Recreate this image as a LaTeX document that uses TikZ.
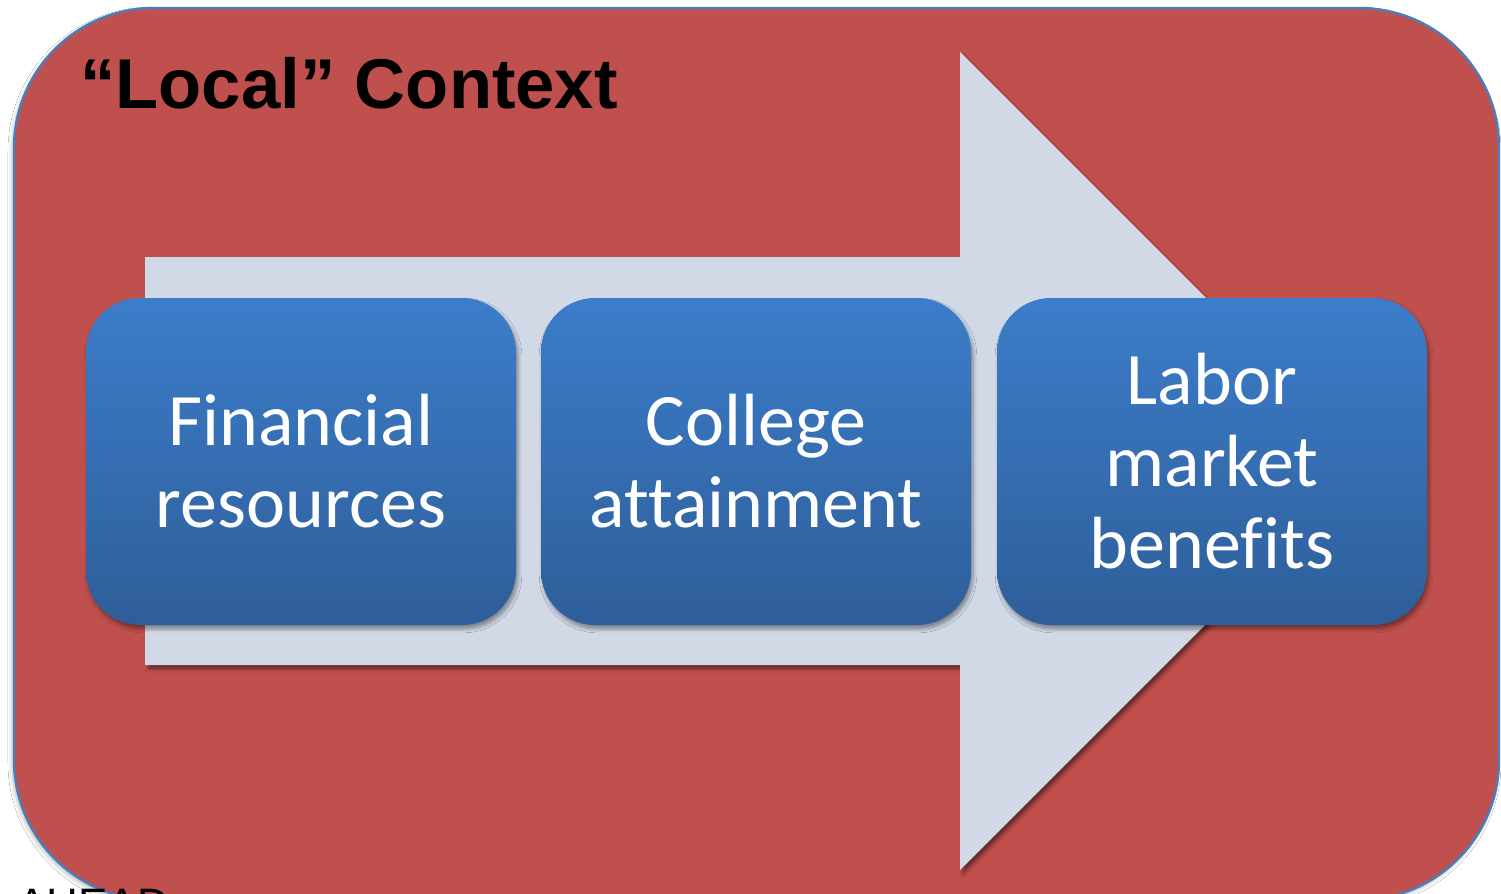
\documentclass[tikz,border=0pt]{standalone}
\usepackage{fontspec}
\setmainfont[Ligatures={NoCommon,NoContextual}]{Carlito}
\newfontfamily\titlefont{Liberation Sans}
\usetikzlibrary{shadows,shadows.blur}
\definecolor{ctxred}{HTML}{C0504D}
\definecolor{ctxline}{HTML}{4A7EBB}
\definecolor{arrowfill}{HTML}{D1D9E7}
\definecolor{boxtop}{HTML}{3C7DCA}
\definecolor{boxbot}{HTML}{2E5E99}
\tikzset{
  stagebox/.style={rounded corners=27pt, top color=boxtop, bottom color=boxbot,
    minimum width=215pt, minimum height=163.5pt, inner sep=0pt,
    text=white, align=center, font=\fontsize{37}{41}\selectfont,
    blur shadow={shadow xshift=1pt, shadow yshift=-2pt, shadow blur steps=5, shadow opacity=40}},
  ctxbox/.style={fill=ctxred, draw=ctxline, line width=1.2pt, rounded corners=70pt,
    blur shadow={shadow xshift=-1pt, shadow yshift=-1.5pt, shadow blur steps=5, shadow blur radius=2pt, shadow opacity=25}},
  bigarrow/.style={fill=arrowfill,
    blur shadow={shadow xshift=1.5pt, shadow yshift=-2pt, shadow blur steps=5, shadow blur radius=1.5pt, shadow opacity=45}}
}
\begin{document}
\begin{tikzpicture}[x=0.5pt,y=-0.5pt]
\clip (0,0) rectangle (1501,894);
\fill[white] (0,0) rectangle (1501,894);
\path[ctxbox] (14,8) rectangle (1499,900);
\node[anchor=base west, inner sep=0pt, font=\titlefont\bfseries\fontsize{35.3}{40}\selectfont] (title) at (80,108) {“Local” Context};
\path[bigarrow] (145,257) -- (960,257) -- (960,52) -- (1369,461) -- (960,870) -- (960,665) -- (145,665) -- cycle;
\node[stagebox] (fin) at (301,461.5) {Financial\\resources};
\node[stagebox] (col) at (756,461.5) {College\\attainment};
\node[stagebox] (lab) at (1212,461.5) {Labor\\market\\benefits};
\node[anchor=base west, inner sep=0pt, font=\titlefont\fontsize{22}{26}\selectfont] (ahead) at (17,919) {AHEAD};
\end{tikzpicture}
\end{document}
